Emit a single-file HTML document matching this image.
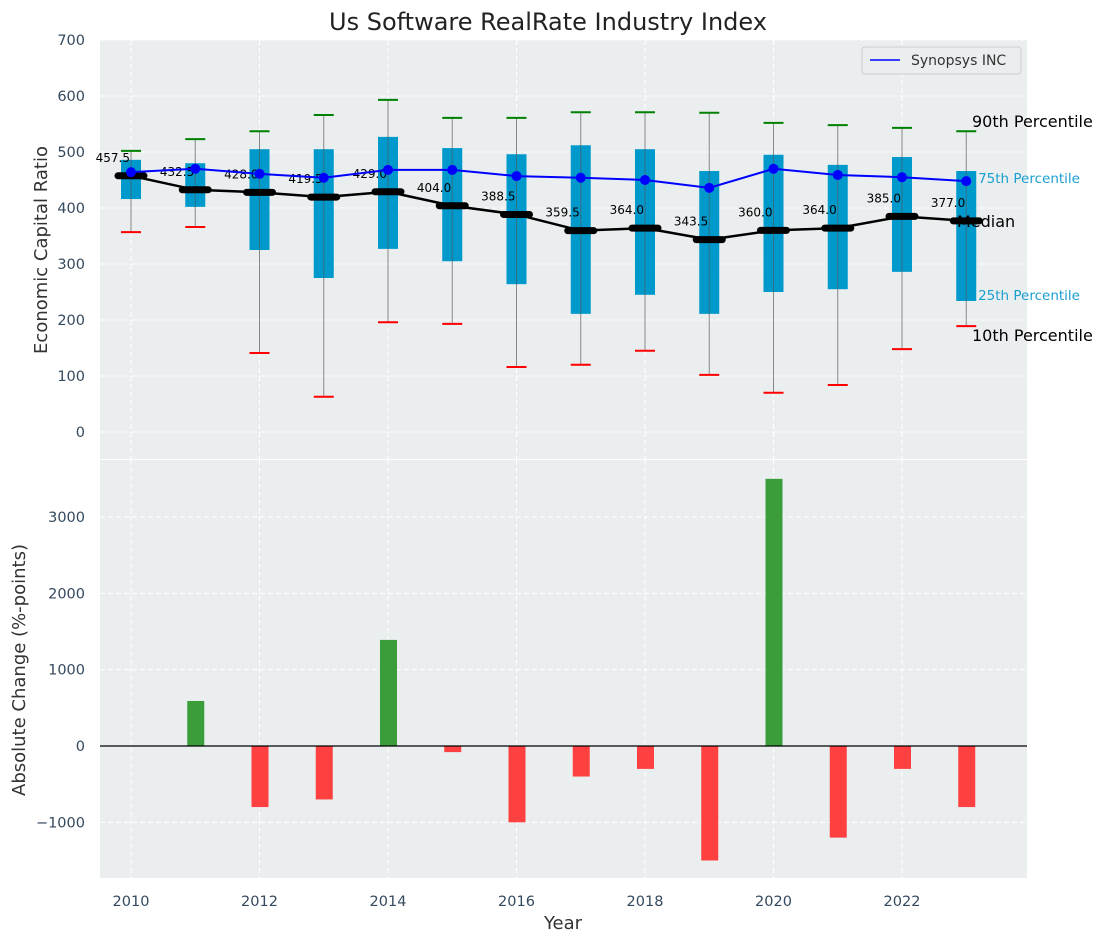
<!DOCTYPE html>
<html><head><meta charset="utf-8"><style>
body{margin:0;background:#fff}
svg text{font-family:"DejaVu Sans","Liberation Sans",sans-serif}
</style></head><body>
<svg id="c" width="1107" height="942" xmlns="http://www.w3.org/2000/svg">
<text x="548" y="30" font-size="24" fill="#222" text-anchor="middle">Us Software RealRate Industry Index</text>
<rect x="100" y="40" width="927" height="419" fill="#eaeeef"/>
<rect x="100" y="460" width="927" height="418" fill="#eaeeef"/>
<g id="grid"></g>
<g id="top"></g>
<g id="bot"></g>
<g id="axes"></g>
<g>
<rect x="862" y="47" width="159" height="27" rx="3" fill="#eaeeef" stroke="#ccc"/>
<line x1="870" y1="60" x2="900" y2="60" stroke="#0000ff" stroke-width="1.5"/>
<text x="911" y="65" font-size="14" fill="#333">Synopsys INC</text>
</g>
<text x="47" y="250" font-size="18" fill="#333" text-anchor="middle" transform="rotate(-90 47 250)">Economic Capital Ratio</text>
<text x="25" y="670" font-size="18" fill="#333" text-anchor="middle" transform="rotate(-90 25 670)">Absolute Change (%-points)</text>
<text x="563" y="929" font-size="18" fill="#333" text-anchor="middle">Year</text>
</svg>
<script>
const years=[2010,2011,2012,2013,2014,2015,2016,2017,2018,2019,2020,2021,2022,2023];
const p90=[502,523,537,566,593,561,561,571,571,570,552,548,543,537];
const p10=[357,366,141,63,196,193,116,120,145,102,70,84,148,189];
const q75=[486,480,505,505,527,507,496,512,505,466,495,477,491,466];
const q25=[416,402,325,275,327,305,264,211,245,211,250,255,286,234];
const medians=[457.5,432.5,428.0,419.5,429.0,404.0,388.5,359.5,364.0,343.5,360.0,364.0,385.0,377.0];
const company=[464,470,461,454,468,468,457,454,450,436,470,459,455,448];
const changes=[0,590,-800,-700,1390,-80,-1000,-400,-300,-1500,3500,-1200,-300,-800];
const topTicks=[0,100,200,300,400,500,600,700];
const botTicks=[-1000,0,1000,2000,3000];
const xTicks=[2010,2012,2014,2016,2018,2020,2022];

const X=y=>131+(y-2010)*64.25;
const YT=v=>432-v*0.56;
const YB=v=>746-v*0.07633;
const NS='http://www.w3.org/2000/svg';
function mk(parent,tag,attrs,txt){const e=document.createElementNS(NS,tag);for(const k in attrs)e.setAttribute(k,attrs[k]);if(txt!==undefined)e.textContent=txt;document.getElementById(parent).appendChild(e);return e;}
topTicks.forEach(t=>{const e=mk('grid','line',{x1:100,x2:1027,y1:YT(t),y2:YT(t),stroke:'#fff','stroke-dasharray':'5,3','stroke-width':1});


const l=mk('axes','text',{x:85,y:YT(t)+5,'font-size':14.5,fill:'#34495e','text-anchor':'end'},t);

});
botTicks.forEach(t=>{const e=mk('grid','line',{x1:100,x2:1027,y1:YB(t),y2:YB(t),stroke:'#fff','stroke-dasharray':'5,3','stroke-width':1});


const l=mk('axes','text',{x:85,y:YB(t)+5,'font-size':14.5,fill:'#34495e','text-anchor':'end'},t<0?'\u2212'+(-t):t);

});
xTicks.forEach(t=>{[[40,459],[460,878]].forEach(r=>{const e=mk('grid','line',{x1:X(t),x2:X(t),y1:r[0],y2:r[1],stroke:'#fff','stroke-dasharray':'5,3'});

});
const l=mk('axes','text',{x:X(t),y:906,'font-size':14.5,fill:'#34495e','text-anchor':'middle'},t);

});
[['75th Percentile',YT(q75[13])+12],['25th Percentile',YT(q25[13])-1]].forEach(a=>{const e=mk('top','text',{x:1080,y:a[1],'font-size':13.5,fill:'#1a9fd0','text-anchor':'end'},a[0]);

});
years.forEach((y,i)=>{const cx=X(y);
const w=mk('top','line',{x1:cx,x2:cx,y1:YT(p90[i]),y2:YT(p10[i]),stroke:'#888','stroke-width':1});


const b=mk('top','rect',{x:cx-10,y:YT(q75[i]),width:20,height:YT(q25[i])-YT(q75[i]),fill:'#0099cc'});


const w2=mk('top','line',{x1:cx,x2:cx,y1:YT(q75[i]),y2:YT(q25[i]),stroke:'#555','stroke-width':1,opacity:0.6});


const c1=mk('top','line',{x1:cx-10,x2:cx+10,y1:YT(p90[i]),y2:YT(p90[i]),stroke:'green','stroke-width':2});


const c2=mk('top','line',{x1:cx-10,x2:cx+10,y1:YT(p10[i]),y2:YT(p10[i]),stroke:'red','stroke-width':2});

});
const mp=mk('top','polyline',{points:years.map((y,i)=>X(y)+','+YT(medians[i])).join(' '),fill:'none',stroke:'#000','stroke-width':2.5});


years.forEach((y,i)=>{const cx=X(y),my=YT(medians[i]);
const m=mk('top','line',{x1:cx-13,x2:cx+13,y1:my,y2:my,stroke:'#000','stroke-width':7,'stroke-linecap':'round'});


const t=mk('top','text',{x:cx-1,y:my-14,'font-size':12,fill:'#000','text-anchor':'end'},medians[i].toFixed(1));

});
const cp=mk('top','polyline',{points:years.map((y,i)=>X(y)+','+YT(company[i])).join(' '),fill:'none',stroke:'#0000ff','stroke-width':2});


years.forEach((y,i)=>{const d=mk('top','circle',{cx:X(y),cy:YT(company[i]),r:5,fill:'#0000ff'});

});
[['90th Percentile',972,127],['Median',957,227],['10th Percentile',972,341]].forEach(a=>{const e=mk('top','text',{x:a[1],y:a[2],'font-size':16,fill:'#000'},a[0]);

});
years.forEach((y,i)=>{const v=changes[i];if(v===0)return;const y0=YB(0),y1=YB(v);
const r=mk('bot','rect',{x:X(y)-8,y:Math.min(y0,y1),width:17,height:Math.abs(y1-y0),fill:v>0?'#3a9d3a':'#ff4040'});

});
const z=mk('bot','line',{x1:100,x2:1027,y1:YB(0),y2:YB(0),stroke:'#000','stroke-width':1.2});


</script>
</body></html>
